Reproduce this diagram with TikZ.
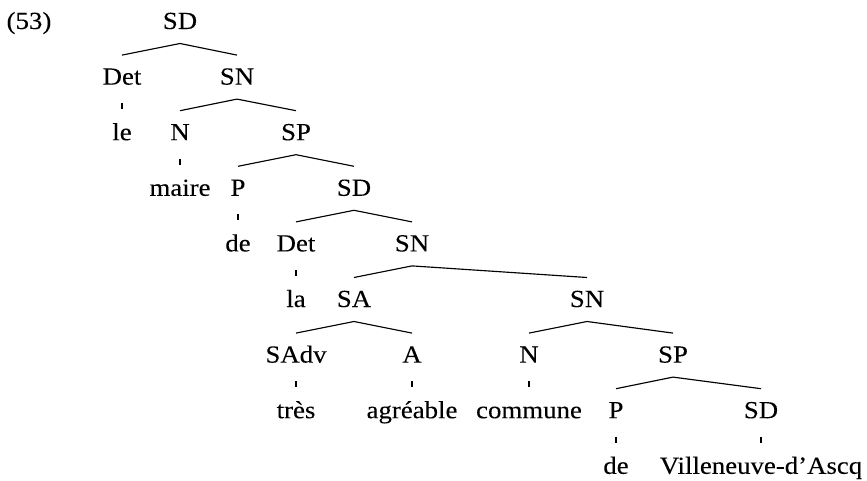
\documentclass[tikz,border=0pt]{standalone}
\usepackage{fontspec}
\setmainfont{Liberation Serif}[FakeStretch=1.09,FakeBold=0.1]
\begin{document}
\begin{tikzpicture}[x=1pt,y=1pt,
  lbl/.style={anchor=base,inner sep=0pt,font=\fontsize{24.6}{28}\selectfont},
  treeline/.style={line width=1.15pt,black}]
\useasboundingbox (0,0) rectangle (867,-481);
% example number
\node[lbl] (num) at (29,-29) {(53)};
% row 0
\node[lbl] (sd0) at (180,-29) {SD};
% row 1
\node[lbl] (det1) at (122,-84.6) {Det};
\node[lbl] (sn1) at (237,-84.6) {SN};
% row 2
\node[lbl] (le) at (122,-140.2) {le};
\node[lbl] (n2) at (180,-140.2) {N};
\node[lbl] (sp2) at (296,-140.2) {SP};
% row 3
\node[lbl] (maire) at (180,-195.8) {maire};
\node[lbl] (p3) at (238,-195.8) {P};
\node[lbl] (sd3) at (354,-195.8) {SD};
% row 4
\node[lbl] (de4) at (238,-251.4) {de};
\node[lbl] (det4) at (296,-251.4) {Det};
\node[lbl] (sn4) at (412,-251.4) {SN};
% row 5
\node[lbl] (la) at (296,-307) {la};
\node[lbl] (sa5) at (354,-307) {SA};
\node[lbl] (sn5) at (587,-307) {SN};
% row 6
\node[lbl] (sadv) at (296,-362.6) {SAdv};
\node[lbl] (a6) at (412,-362.6) {A};
\node[lbl] (n6) at (529,-362.6) {N};
\node[lbl] (sp6) at (673,-362.6) {SP};
% row 7
\node[lbl] (tres) at (296,-418.2) {très};
\node[lbl] (agreable) at (412,-418.2) {agréable};
\node[lbl] (commune) at (529,-418.2) {commune};
\node[lbl] (p7) at (616,-418.2) {P};
\node[lbl] (sd7) at (761,-418.2) {SD};
% row 8
\node[lbl] (de8) at (616,-473.8) {de};
\node[lbl] (ville) at (761,-473.8) {Villeneuve-d’Ascq};
% binary branches: apex under the mother, ends over the daughters
\foreach \m/\l/\r in {sd0/det1/sn1, sn1/n2/sp2, sp2/p3/sd3, sd3/det4/sn4,
                      sn4/sa5/sn5, sa5/sadv/a6, sn5/n6/sp6, sp6/p7/sd7}
  \draw[treeline] ([yshift=29.5pt]\l.base) -- ([yshift=-14.5pt]\m.base)
                  -- ([yshift=29.5pt]\r.base);
% unary branches: short ticks
\foreach \m/\d in {det1/le, n2/maire, p3/de4, det4/la, sadv/tres,
                   a6/agreable, n6/commune, p7/de8, sd7/ville}
  \draw[treeline] ([yshift=-18.5pt]\m.base) -- ([yshift=31pt]\d.base);
\end{tikzpicture}
\end{document}
